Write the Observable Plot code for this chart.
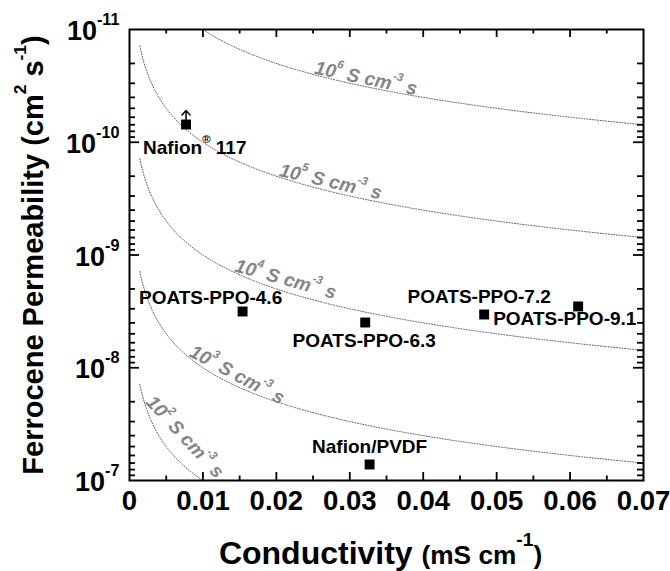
<!DOCTYPE html>
<html><head><meta charset="utf-8">
<script src="https://cdn.jsdelivr.net/npm/d3@7"></script>
<script src="https://cdn.jsdelivr.net/npm/@observablehq/plot@0.6"></script>
<style>
html,body{margin:0;padding:0;background:#fff;}
#chart svg{display:block;}
</style>
</head><body><div id="chart"></div>
<script>
// ---- data ----
const membranes = ["Nafion 117", "POATS-PPO-4.6", "POATS-PPO-6.3", "POATS-PPO-7.2", "POATS-PPO-9.1", "Nafion/PVDF"];
const memLabels = ["Nafion^{®} 117", "POATS-PPO-4.6", "POATS-PPO-6.3", "POATS-PPO-7.2", "POATS-PPO-9.1", "Nafion/PVDF"];
const conductivity = [0.0077, 0.0154, 0.0321, 0.0483, 0.0611, 0.0327];   // mS cm^-1
const permeability = [6.96e-11, 3.17e-9, 3.97e-9, 3.37e-9, 2.86e-9, 7.21e-8]; // cm^2 s^-1
const upperBound = [true, false, false, false, false, false];             // arrow on Nafion 117

// iso-selectivity reference lines (selectivity = conductivity / permeability)
const selectivity = [1e2, 1e3, 1e4, 1e5, 1e6];                           // S cm^-3 s
const selLabels = ["10^{2} S cm^{-3} s", "10^{3} S cm^{-3} s", "10^{4} S cm^{-3} s", "10^{5} S cm^{-3} s", "10^{6} S cm^{-3} s"];
const selLabelAt = [0.0021, 0.0080, 0.0142, 0.0203, 0.0251];             // conductivity where each label starts

// axis ticks
const xTicks = [0, 0.01, 0.02, 0.03, 0.04, 0.05, 0.06, 0.07];
const xTickLabels = ["0", "0.01", "0.02", "0.03", "0.04", "0.05", "0.06", "0.07"];
const yTicks = [1e-11, 1e-10, 1e-9, 1e-8, 1e-7];
const yTickLabels = ["10^{-11}", "10^{-10}", "10^{-9}", "10^{-8}", "10^{-7}"];
const xTitle = "Conductivity ~{(mS cm}^{-1}~{)}";
const yTitle = "Ferrocene Permeability (cm^{2} s^{-1})";

// ---- layout / style ----
const W = 670, H = 571, mL = 129, mR = 27, mT = 29, mB = 91;
const plotW = W - mL - mR, plotH = H - mT - mB;
const selRotate = [47, 28, 15.5, 13, 12];
const labelPlace = [ // [dx, dy, textAnchor]
  [-43, 29, "start"], [-32, -7, "middle"], [-1, 24.5, "middle"],
  [-5, -11, "middle"], [-85, 19, "start"], [0, -11, "middle"]
];

const curveX = d3.range(14, 701).map(i => i / 10000);
const curves = selectivity.flatMap(S => curveX.map(x => ({S, x, P: x * 1e-3 / S})));
const selLab = selectivity.map((S, i) => ({S, x: selLabelAt[i], P: selLabelAt[i] * 1e-3 / S, text: selLabels[i], r: selRotate[i]}));
const pts = membranes.map((m, i) => ({name: m, x: conductivity[i], P: permeability[i], label: memLabels[i], up: upperBound[i]}));

const xMajor = xTicks.slice(1, -1);
const xMinor = xTicks.slice(0, -1).map(d => d + 0.005);
const yMajor = yTicks.slice(1, -1);
const yMinor = yTicks.slice(0, -1).flatMap(d => d3.range(2, 10).map(k => k * d));

const arrowShape = {draw(ctx, l) { ctx.moveTo(0, 0); ctx.lineTo(0, -l); ctx.moveTo(-4, 4.5 - l); ctx.lineTo(0, -l); ctx.lineTo(4, 4.5 - l); }};

const font = "'Liberation Sans', Arial, Helvetica, sans-serif";
const tk = {stroke: "black", strokeWidth: 1.8};

const chart = Plot.plot({
  width: W, height: H,
  marginLeft: mL, marginRight: mR, marginTop: mT, marginBottom: mB,
  style: {fontFamily: font, background: "white", overflow: "visible"},
  x: {domain: [0, 0.07], axis: null},
  y: {type: "log", domain: [1e-11, 1e-7], reverse: true, axis: null},
  marks: [
    // iso-selectivity dotted lines
    Plot.line(curves, {x: "x", y: "P", z: "S", stroke: "#555", strokeWidth: 1, strokeDasharray: "1,1.7", clip: true}),
    Plot.text(selLab, {x: "x", y: "P", text: "text", rotate: "r", textAnchor: "start", lineAnchor: "bottom", dy: -1,
      fill: "#858585", fontSize: 19, fontWeight: "bold", fontStyle: "italic"}),
    // ticks (inward)
    Plot.ruleX(xMajor, {x: d => d, insetTop: plotH - 8, ...tk}),
    Plot.ruleX(xMajor, {x: d => d, insetBottom: plotH - 8, ...tk}),
    Plot.ruleX(xMinor, {x: d => d, insetTop: plotH - 4.5, ...tk}),
    Plot.ruleX(xMinor, {x: d => d, insetBottom: plotH - 4.5, ...tk}),
    Plot.ruleY(yMajor, {y: d => d, insetRight: plotW - 10, ...tk}),
    Plot.ruleY(yMajor, {y: d => d, insetLeft: plotW - 10, ...tk}),
    Plot.ruleY(yMinor, {y: d => d, insetRight: plotW - 6, ...tk}),
    Plot.ruleY(yMinor, {y: d => d, insetLeft: plotW - 6, ...tk}),
    // tick labels
    Plot.text(xTicks, {x: d => d, text: (d, i) => xTickLabels[i], frameAnchor: "bottom", lineAnchor: "top", dy: 10,
      fontSize: 27.5, fontWeight: "bold", fill: "black"}),
    Plot.text(yTicks, {y: d => d, text: (d, i) => yTickLabels[i], frameAnchor: "left", textAnchor: "end", dx: -10, dy: 2,
      fontSize: 27, fontWeight: "bold", fill: "black"}),
    // axis titles
    Plot.text([yTitle], {text: d => d, frameAnchor: "left", textAnchor: "middle", rotate: -90, lineAnchor: "bottom", dx: -87, dy: 0,
      fontSize: 29, fontWeight: "bold", fill: "black"}),
    Plot.text([xTitle], {text: d => d, frameAnchor: "bottom", textAnchor: "middle", lineAnchor: "bottom", dy: 83, dx: -6,
      fontSize: 32, fontWeight: "bold", fill: "black"}),
    // data
    Plot.vector(pts.filter(d => d.up), {x: "x", y: "P", length: 14, rotate: 0, anchor: "start", shape: arrowShape,
      stroke: "black", strokeWidth: 1.5}),
    Plot.dot(pts, {x: "x", y: "P", symbol: "square", r: 5.6, fill: "black", stroke: "none"}),
    ...pts.map((p, i) => Plot.text([p], {x: "x", y: "P", text: "label", dx: labelPlace[i][0], dy: labelPlace[i][1],
      textAnchor: labelPlace[i][2], lineAnchor: "bottom", fontSize: 19, fontWeight: "bold", fill: "black"})),
    Plot.frame({stroke: "black", strokeWidth: 2})
  ]
});

document.getElementById("chart").appendChild(chart);

// turn ^{...} into superscripts and ~{...} into smaller text, keeping real text
const NS = "http://www.w3.org/2000/svg";
chart.querySelectorAll("text").forEach(t => {
  const s = t.textContent;
  if (!/[\^~]\{/.test(s)) return;
  const base = parseFloat(getComputedStyle(t).fontSize);
  const tokens = s.split(/(\^\{[^}]*\}|~\{|\})/).filter(x => x);
  t.textContent = "";
  let cur = base, shift = 0;
  for (const tok of tokens) {
    if (tok === "~{") { cur = base * 0.82; continue; }
    if (tok === "}") { cur = base; continue; }
    const ts = document.createElementNS(NS, "tspan");
    let size = cur, target = 0, txt = tok;
    if (tok.startsWith("^{")) { size = cur * 0.6; target = -cur * 0.56; txt = tok.slice(2, -1); }
    ts.setAttribute("font-size", size.toFixed(2));
    const d = target - shift;
    if (d) ts.setAttribute("dy", d.toFixed(2));
    shift = target;
    ts.textContent = txt;
    t.appendChild(ts);
  }
});
</script>
</body></html>
